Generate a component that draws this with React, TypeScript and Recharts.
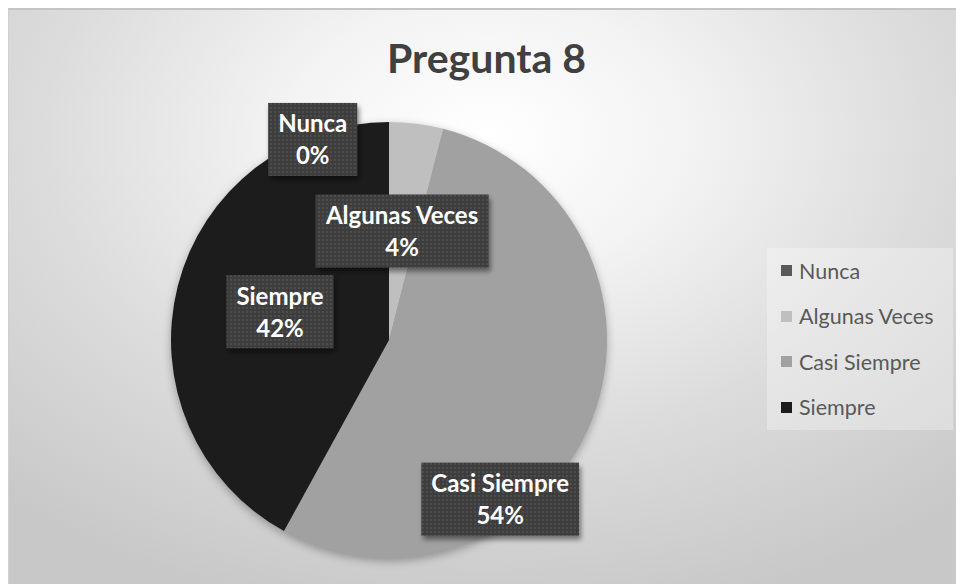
import { PieChart, Pie, Cell, Legend } from "recharts";

const categories = ["Nunca", "Algunas Veces", "Casi Siempre", "Siempre"];
const shares = [0, 4, 54, 42];
const sliceColors = ["#595959", "#bfbfbf", "#a1a1a1", "#1c1c1c"];

const data = categories.map((name, i) => ({ name, value: shares[i] }));

// where each label box sits, as a fraction of the radius from the pie centre
const labelSpots = [
  [-0.35, -0.92],
  [0.06, -0.5],
  [0.51, 0.73],
  [-0.5, -0.13],
];

const W = 956;
const H = 576;
const LABEL_FONT = "bold 24px Lato";

let measureCtx: CanvasRenderingContext2D | null = null;
function textWidth(s: string) {
  if (!measureCtx) measureCtx = document.createElement("canvas").getContext("2d");
  if (!measureCtx) return s.length * 12;
  measureCtx.font = LABEL_FONT;
  return measureCtx.measureText(s).width;
}

function renderLabel(props: any) {
  const { cx, cy, outerRadius, index, percent } = props;
  const name = props.name ?? props.payload?.name;
  const [fx, fy] = labelSpots[index];
  const x = cx + fx * outerRadius;
  const y = cy + fy * outerRadius;
  const pct = `${Math.round(percent * 100)}%`;
  const w = Math.max(textWidth(name), textWidth(pct)) + 20;
  const h = 73;
  return (
    <g key={`lbl-${index}`}>
      <defs>
        <pattern id={`dots-${index}`} width="4" height="4" patternUnits="userSpaceOnUse">
          <rect width="4" height="4" fill="#3e3e3e" />
          <circle cx="2" cy="2" r="0.9" fill="#565656" />
        </pattern>
        <filter id={`shadow-${index}`} x="-20%" y="-20%" width="150%" height="160%">
          <feDropShadow dx="2" dy="4" stdDeviation="2.5" floodColor="#000" floodOpacity="0.45" />
        </filter>
      </defs>
      <rect
        x={x - w / 2}
        y={y - h / 2}
        width={w}
        height={h}
        fill={`url(#dots-${index})`}
        filter={`url(#shadow-${index})`}
      />
      <text x={x} y={y - 7} textAnchor="middle" fill="#ffffff" style={{ font: LABEL_FONT }}>
        {name}
      </text>
      <text x={x} y={y + 25} textAnchor="middle" fill="#ffffff" style={{ font: LABEL_FONT }}>
        {pct}
      </text>
    </g>
  );
}

function renderLegend(props: any) {
  const items = [...(props.payload || [])].sort(
    (a: any, b: any) => categories.indexOf(a.value) - categories.indexOf(b.value)
  );
  return (
    <div
      style={{
        width: 186,
        height: 182,
        background: "rgba(255,255,255,0.3)",
        fontFamily: "Lato, sans-serif",
        fontSize: 21.5,
        color: "#595959",
      }}
    >
      {items.map((item: any) => (
        <div
          key={item.value}
          style={{ display: "flex", alignItems: "center", height: 45.5, paddingLeft: 14 }}
        >
          <span
            style={{
              display: "inline-block",
              width: 11,
              height: 11,
              background: item.color,
              marginRight: 7,
            }}
          />
          <span>{item.value}</span>
        </div>
      ))}
    </div>
  );
}

export default function App() {
  return (
    <div
      style={{
        position: "relative",
        width: W,
        height: H,
        borderTop: "2px solid #c4c4c4",
        borderLeft: "1px solid #d0d0d0",
        boxSizing: "border-box",
        background:
          "radial-gradient(ellipse 75% 85% at 50% 22%, #ffffff 0%, #f3f3f3 28%, #dcdcdc 62%, #c8c8c8 100%)",
      }}
    >
      <style>{`
        html, body { overflow: hidden; }
        .recharts-pie { filter: drop-shadow(0 3px 4px rgba(0,0,0,0.3)); }
      `}</style>
      <div
        style={{
          position: "absolute",
          left: 0,
          right: 0,
          top: 27,
          textAlign: "center",
          font: "bold 41px/41px Lato",
          color: "#404040",
        }}
      >
        Pregunta 8
      </div>
      <div style={{ position: "absolute", left: 0, top: 0 }}>
        <PieChart width={W} height={H} margin={{ top: 0, right: 0, bottom: 0, left: 0 }}>
          <Pie
            data={data}
            dataKey="value"
            nameKey="name"
            cx={380}
            cy={330}
            outerRadius={218}
            startAngle={90}
            endAngle={-270}
            stroke="none"
            labelLine={false}
            label={renderLabel}
            isAnimationActive={false}
          >
            {data.map((d, i) => (
              <Cell key={d.name} fill={sliceColors[i]} />
            ))}
          </Pie>
          <Legend
            layout="vertical"
            align="right"
            verticalAlign="top"
            wrapperStyle={{ left: 758, top: 238, width: 186 }}
            content={renderLegend}
          />
        </PieChart>
      </div>
    </div>
  );
}
